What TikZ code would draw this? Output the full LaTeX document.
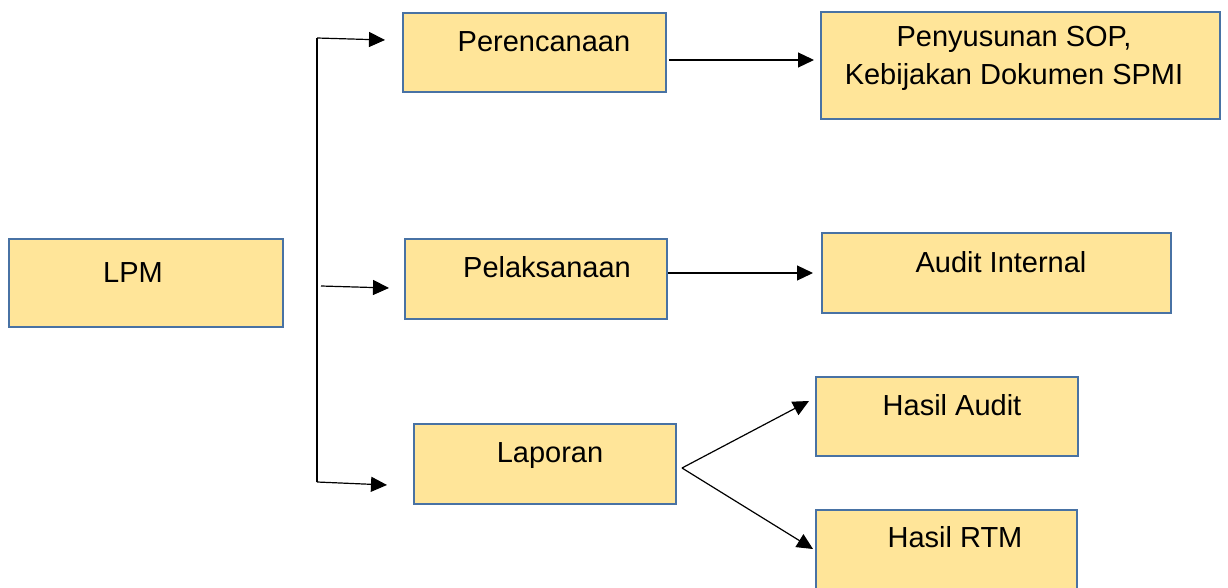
\documentclass[tikz,border=0pt]{standalone}
\usepackage{fontspec}
\setmainfont{Liberation Sans}
\usetikzlibrary{arrows.meta,calc}
\definecolor{boxfill}{RGB}{255,229,153}
\definecolor{boxline}{RGB}{72,114,164}
\begin{document}
\begin{tikzpicture}[x=1pt,y=-1pt,
  box/.style={draw=boxline,fill=boxfill,line width=1.8pt,inner sep=0pt,outer sep=0pt},
  lbl/.style={anchor=base,inner sep=0pt,font=\fontsize{29}{35}\selectfont},
  arr/.style={line width=1.2pt,-{Triangle[length=16pt,width=15pt]}},
  conn/.style={line width=1.2pt}]
\useasboundingbox (0,0) rectangle (1228,588);
% boxes
\node[box,minimum width=274pt,minimum height=88pt] (lpm) at (146,283) {};
\node[box,minimum width=263pt,minimum height=79pt] (per) at (534.5,52.5) {};
\node[box,minimum width=399pt,minimum height=107pt] (pen) at (1020.5,65.5) {};
\node[box,minimum width=262pt,minimum height=80pt] (pel) at (536,279) {};
\node[box,minimum width=349pt,minimum height=80pt] (aud) at (996.5,273) {};
\node[box,minimum width=262pt,minimum height=80pt] (lap) at (545,464) {};
\node[box,minimum width=262pt,minimum height=79pt] (ha) at (947,416.5) {};
\node[box,minimum width=261pt,minimum height=82pt] (hr) at (946.5,551) {};
% texts
\node[lbl] (tlpm) at (133,282) {LPM};
\node[lbl] (tper) at (544,52) {Perencanaan};
\node[lbl] (tpen1) at (1014,47) {Penyusunan SOP,};
\node[lbl] (tpen2) at (1014,85) {Kebijakan Dokumen SPMI};
\node[lbl] (tpel) at (547,277) {Pelaksanaan};
\node[lbl] (taud) at (1001,272) {Audit Internal};
\node[lbl] (tlap) at (550,462) {Laporan};
\node[lbl] (tha) at (952,415) {Hasil Audit};
\node[lbl] (thr) at (955,547) {Hasil RTM};
% trunk
\coordinate (top) at (317,38);
\coordinate (mid) at (321,286);
\coordinate (bot) at (317,482);
\coordinate (j) at ($(lap.east)+(6,4)$);
\draw[conn] (top) -- (bot);
\draw[arr] (top) -- ($(per.west)+(-18,-12.5)$);
\draw[arr] (mid) -- ($(pel.west)+(-16,9)$);
\draw[arr] (bot) -- ($(lap.west)+(-27,21)$);
\draw[arr] ($(per.east)+(3,7.5)$) -- ($(pen.west)+(-7,-5.5)$);
\draw[arr] ($(pel.east)+(1,-6)$) -- ($(aud.west)+(-9,0)$);
\draw[arr] (j) -- ($(ha.west)+(-7,-15.5)$);
\draw[arr] (j) -- ($(hr.west)+(-3,-2)$);
\end{tikzpicture}
\end{document}
